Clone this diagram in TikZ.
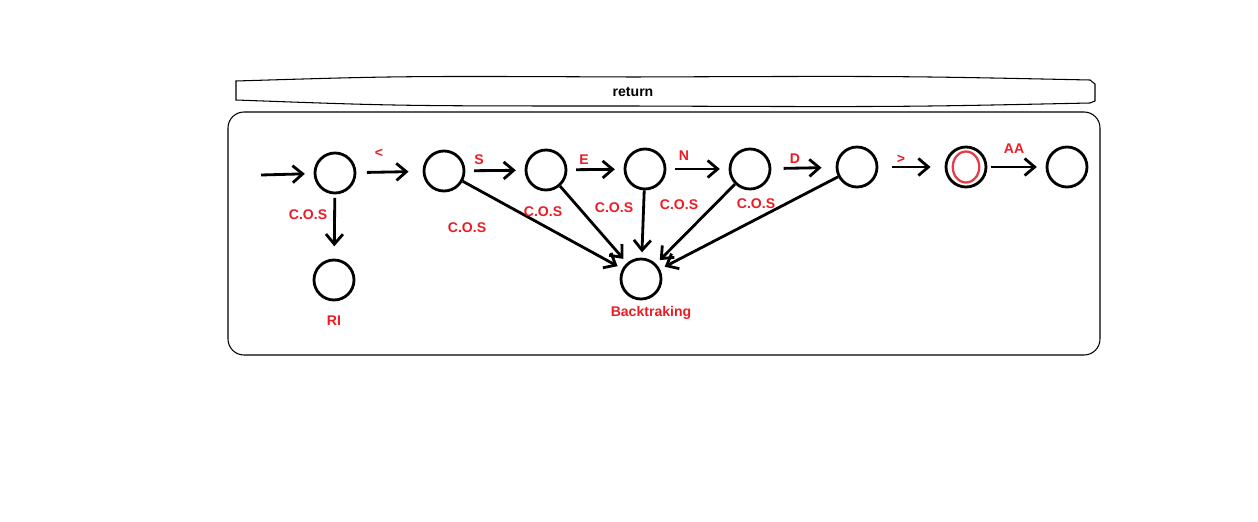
\documentclass[tikz,border=0pt]{standalone}
\usepackage{fontspec}
\setmainfont{Liberation Sans}
\usetikzlibrary{arrows.meta}
\definecolor{lblred}{RGB}{237,28,36}
\definecolor{innerred}{RGB}{228,60,72}
\begin{document}
\begin{tikzpicture}[x=0.02cm,y=-0.02cm,
  st/.style={circle,draw=black,line width=1.6pt,minimum size=0.8cm,inner sep=0pt},
  tr/.style={line width=1.6pt,-{Straight Barb[length=2mm,width=3.4mm,line width=1.6pt]},shorten <=5pt,shorten >=5pt},
  lbl/.style={text=lblred,font=\bfseries\fontsize{8}{10}\selectfont,inner sep=0pt},
  frame/.style={draw=black,line width=0.6pt}]
\useasboundingbox (0,0) rectangle (1258,521);
% return banner
\draw[frame] (236,81) .. controls (400,76) .. (633,77) .. controls (900,76) .. (1090,80) -- (1095,84) -- (1095,101) -- (1090,103) .. controls (900,107) .. (633,106) .. controls (400,106) .. (236,100) -- cycle;
\node[font=\bfseries\fontsize{8}{10}\selectfont,inner sep=0pt] (ret) at (633,92) {return};
% main box
\draw[frame,rounded corners=0.32cm] (228,112) rectangle (1100,355);
% states
\node[st] (q0) at (335,173) {};
\node[st] (ri) at (334,280) {};
\node[st] (q1) at (444,171) {};
\node[st] (q2) at (546,170) {};
\node[st] (q3) at (645,169) {};
\node[st] (q4) at (750,169) {};
\node[st] (q5) at (857,167) {};
\node[st] (q6) at (966,167) {};
\draw[innerred,line width=1.3pt] (q6.center) ellipse [x radius=0.265cm, y radius=0.31cm];
\node[st] (q7) at (1067,167) {};
\node[st] (bt) at (641,279) {};
\coordinate (start) at (261,175);
% transitions
\draw[tr,shorten <=0pt] (start) -- (q0);
\draw[tr,shorten <=6pt,shorten >=8pt] (q0) -- (q1);
\draw[tr] (q1) -- (q2);
\draw[tr] (q2) -- (q3);
\draw[tr] (q3) -- (q4);
\draw[tr,shorten <=7pt,shorten >=8pt] (q4) -- (q5);
\draw[tr,shorten <=8pt,shorten >=8pt] (q5) -- (q6);
\draw[tr,shorten <=2pt] (q6) -- (q7);
\draw[tr,shorten <=2pt,shorten >=7pt] (q0) -- (ri);
\draw[tr,shorten <=0pt,shorten >=3pt] (q1) -- (bt);
\draw[tr,shorten <=0pt,shorten >=3pt] (q2) -- (bt);
\draw[tr,shorten <=0pt,shorten >=3pt] (q3) -- (bt);
\draw[tr,shorten <=0pt,shorten >=3pt] (q4) -- (bt);
\draw[tr,shorten <=0pt,shorten >=3pt] (q5) -- (bt);
% labels
\node[lbl] at (379,153) {<};
\node[lbl] at (479,160) {S};
\node[lbl] at (584,160) {E};
\node[lbl] at (684,156) {N};
\node[lbl] at (795,159) {D};
\node[lbl] at (901,159) {>};
\node[lbl] at (1014,149) {AA};
\node[lbl] at (308,215) {C.O.S};
\node[lbl] at (467,228) {C.O.S};
\node[lbl] at (543,212) {C.O.S};
\node[lbl] at (614,208) {C.O.S};
\node[lbl] at (679,205) {C.O.S};
\node[lbl] at (756,204) {C.O.S};
\node[lbl] at (334,321) {RI};
\node[lbl] at (651,313) {Backtraking};
\end{tikzpicture}
\end{document}
